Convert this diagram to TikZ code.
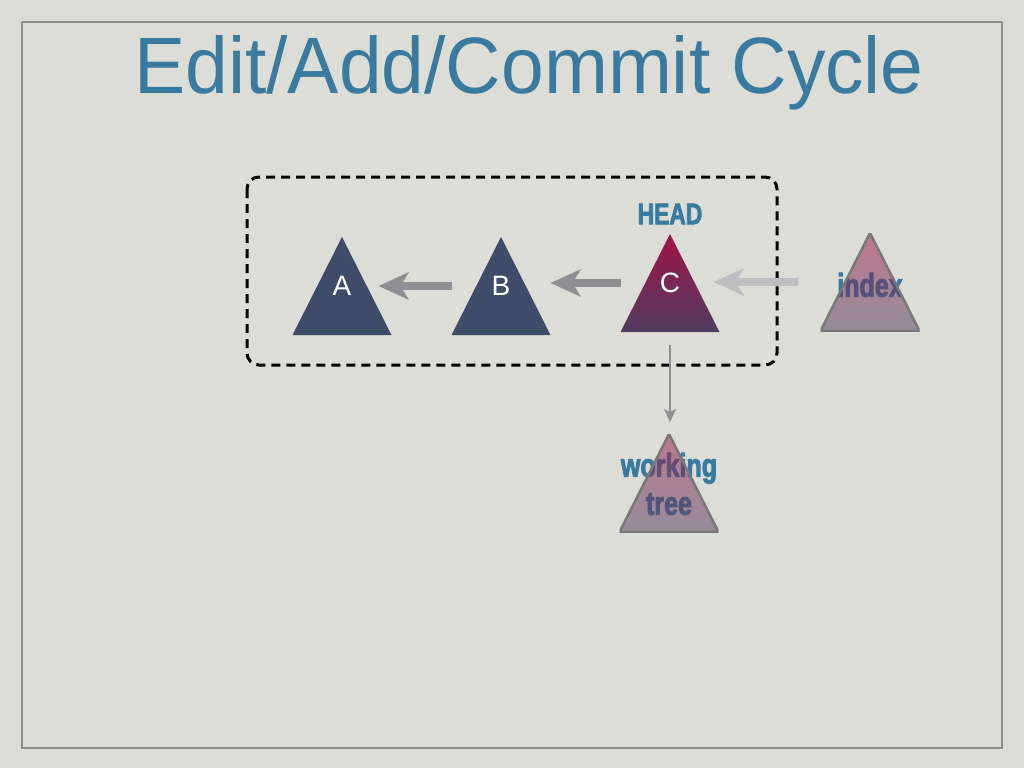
\documentclass[tikz,border=0pt]{standalone}
\usepackage{fontspec}
\setmainfont{Liberation Sans}
\newfontfamily\titlefont[FakeStretch=0.96]{Liberation Sans}
\newfontfamily\tagfont[FakeStretch=0.76, FakeBold=2.5]{Liberation Sans Bold}
\usetikzlibrary{arrows.meta}

\definecolor{paper}{RGB}{220,221,214}
\definecolor{framegray}{RGB}{140,140,140}
\definecolor{titleblue}{RGB}{58,122,158}
\definecolor{navy}{RGB}{62,76,106}
\definecolor{headtop}{RGB}{160,20,72}
\definecolor{headbot}{RGB}{80,60,95}
\definecolor{arrowgray}{RGB}{142,142,147}
\definecolor{lightgray}{RGB}{190,190,192}
\definecolor{edgegray}{RGB}{120,120,120}

\begin{document}
\begin{tikzpicture}[x=1pt, y=-1pt,
      tri/.style={minimum width=99pt, minimum height=98pt, inner sep=0pt,
        outer sep=0pt, text=white, font=\fontsize{28}{28}\selectfont},
      commit/.style={tri, path picture={
        \fill[navy] (path picture bounding box.north)
          -- (path picture bounding box.south west)
          -- (path picture bounding box.south east) -- cycle;}},
      head/.style={tri, path picture={
        \shade[top color=headtop, bottom color=headbot]
          (path picture bounding box.north)
          -- (path picture bounding box.south west)
          -- (path picture bounding box.south east) -- cycle;}},
      staged/.style={tri, path picture={
        \shade[top color=headtop, bottom color=headbot, fill opacity=0.5]
          (path picture bounding box.north)
          -- (path picture bounding box.south west)
          -- (path picture bounding box.south east) -- cycle;
        \draw[edgegray, line width=2.5pt, line join=round]
          (path picture bounding box.north)
          -- (path picture bounding box.south west)
          -- (path picture bounding box.south east) -- cycle;}},
      tag/.style={text=titleblue, inner sep=0pt,
        font=\tagfont\fontsize{33}{38}\selectfont},
      bigarrow/.style={draw=arrowgray, line width=8pt,
        -{Stealth[length=30pt, width=27pt, inset=8pt]}},
      thinarrow/.style={draw=arrowgray, line width=2.5pt,
        -{Stealth[length=13pt, width=12pt, inset=3pt]}}]
% slide
\fill[paper] (0,0) rectangle (1024,768);
\draw[framegray, line width=1.5pt] (22,22) rectangle (1002,748);
\node[anchor=base, text=titleblue, inner sep=0pt,
  font=\titlefont\fontsize{80}{80}\selectfont] (title) at (529,93)
  {Edit/Add/Commit Cycle};
% current branch
\draw[line width=3pt, dash pattern=on 9pt off 6pt, rounded corners=12pt]
  (247,177) rectangle (777,365);
% commits
\node[commit] (A) at (342,286) {A};
\node[commit] (B) at (501,286) {B};
\node[head] (C) at (670,283) {C};
\node[tag, font=\tagfont\fontsize{30}{30}\selectfont]
  (headlabel) at (670,214) {HEAD};
% index and working tree
\node[tag] (idxlabel) at (870,285) {index};
\node[staged] (idx) at (870,282) {};
\node[tag, align=center] (wtlabel) at (669,484) {working\\tree};
\node[staged] (wt) at (669,483) {};
% links
\draw[bigarrow, shorten >=-13pt] (B.west) -- (A.east);
\draw[bigarrow] (C.west) -- (C.west -| B.east);
\draw[bigarrow, draw=lightgray, shorten <=23pt, shorten >=-6pt]
  (idx.west) -- (idx.west -| C.east);
\draw[thinarrow, shorten <=13pt, shorten >=12pt]
  (C.south) -- (C.south |- wt.north);
\end{tikzpicture}
\end{document}
